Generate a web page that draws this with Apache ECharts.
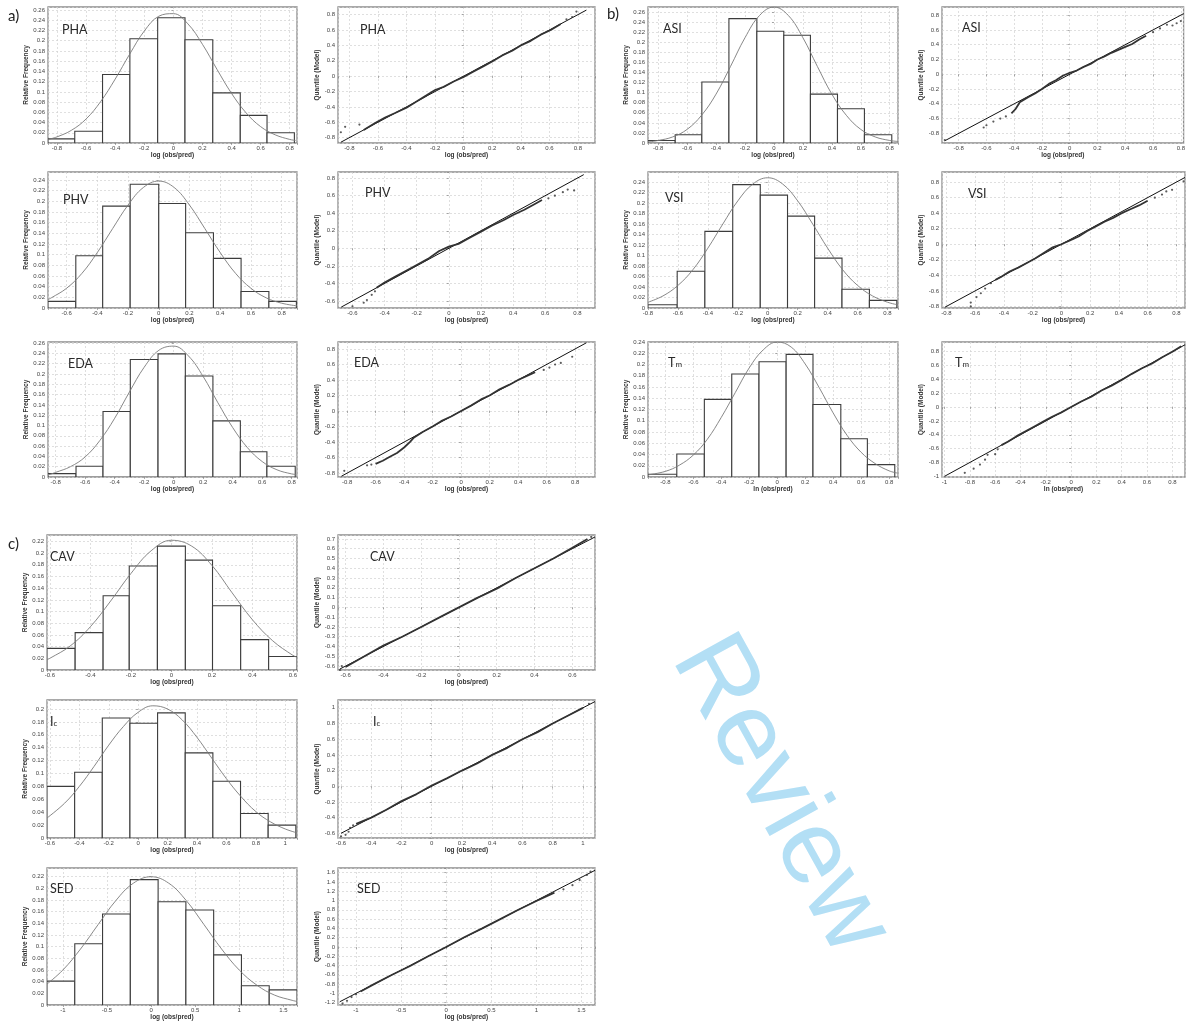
<!DOCTYPE html>
<html>
<head>
<meta charset="utf-8">
<script src="https://cdn.jsdelivr.net/npm/echarts@6/dist/echarts.min.js"></script>
<style>
html,body{margin:0;padding:0;background:#fff}
#c{width:1188px;height:1022px}
</style>
</head>
<body>
<div id="c"></div>
<script>
// ---------- Histograms: bin edges, relative frequencies, fitted normal curve ----------
const phaEdges = [-0.862,-0.678,-0.487,-0.299,-0.108,0.080,0.271,0.460,0.644,0.832];
const phaFreq  = [0.008,0.023,0.134,0.204,0.245,0.202,0.098,0.054,0.020];
const phaCurve = [[-0.86,0.007],[-0.8,0.012],[-0.7,0.025],[-0.6,0.047],[-0.5,0.081],[-0.4,0.125],[-0.3,0.174],[-0.2,0.219],[-0.1,0.248],[0,0.253],[0.1,0.233],[0.2,0.193],[0.3,0.144],[0.4,0.097],[0.5,0.059],[0.6,0.032],[0.7,0.016],[0.8,0.007],[0.84,0.005]];

const phvEdges = [-0.721,-0.540,-0.365,-0.186,0,0.175,0.356,0.536,0.717,0.896];
const phvFreq  = [0.0125,0.098,0.191,0.232,0.196,0.141,0.093,0.031,0.0125];
const phvCurve = [[-0.72,0.016],[-0.7,0.019],[-0.6,0.037],[-0.5,0.065],[-0.4,0.104],[-0.3,0.149],[-0.2,0.193],[-0.1,0.226],[0,0.238],[0.1,0.226],[0.2,0.193],[0.3,0.149],[0.4,0.104],[0.5,0.065],[0.6,0.037],[0.7,0.019],[0.8,0.009],[0.9,0.004]];

const edaEdges = [-0.852,-0.662,-0.479,-0.294,-0.106,0.079,0.266,0.452,0.632,0.824];
const edaFreq  = [0.0065,0.021,0.127,0.228,0.239,0.196,0.109,0.049,0.021];
const edaCurve = [[-0.85,0.004],[-0.8,0.009],[-0.7,0.020],[-0.6,0.039],[-0.5,0.071],[-0.4,0.114],[-0.3,0.165],[-0.2,0.213],[-0.1,0.246],[0,0.254],[0.1,0.235],[0.2,0.195],[0.3,0.144],[0.4,0.096],[0.5,0.057],[0.6,0.030],[0.7,0.014],[0.8,0.006],[0.83,0.005]];

const asiEdges = [-0.870,-0.682,-0.498,-0.311,-0.118,0.068,0.252,0.439,0.625,0.814];
const asiFreq  = [0.005,0.0165,0.121,0.247,0.222,0.214,0.097,0.068,0.0165];
const asiCurve = [[-0.87,0.002],[-0.8,0.005],[-0.7,0.012],[-0.6,0.027],[-0.5,0.055],[-0.4,0.097],[-0.3,0.152],[-0.2,0.209],[-0.1,0.253],[0,0.270],[0.1,0.253],[0.2,0.209],[0.3,0.152],[0.4,0.097],[0.5,0.055],[0.6,0.027],[0.7,0.012],[0.8,0.005],[0.857,0.003]];

const vsiEdges = [-0.800,-0.605,-0.420,-0.234,-0.050,0.132,0.313,0.496,0.679,0.862];
const vsiFreq  = [0.0063,0.070,0.146,0.235,0.215,0.175,0.095,0.0356,0.0146];
const vsiCurve = [[-0.8,0.011],[-0.7,0.023],[-0.6,0.043],[-0.5,0.073],[-0.4,0.114],[-0.3,0.160],[-0.2,0.204],[-0.1,0.236],[0,0.248],[0.1,0.236],[0.2,0.204],[0.3,0.160],[0.4,0.114],[0.5,0.073],[0.6,0.043],[0.7,0.023],[0.8,0.011],[0.87,0.006]];

const tmEdges = [-0.924,-0.718,-0.521,-0.325,-0.130,0.064,0.256,0.455,0.645,0.841];
const tmFreq  = [0.005,0.041,0.138,0.183,0.205,0.218,0.129,0.068,0.022];
const tmCurve = [[-0.92,0.004],[-0.8,0.010],[-0.7,0.021],[-0.6,0.039],[-0.5,0.067],[-0.4,0.106],[-0.3,0.150],[-0.2,0.194],[-0.1,0.226],[0,0.240],[0.1,0.231],[0.2,0.201],[0.3,0.159],[0.4,0.114],[0.5,0.074],[0.6,0.044],[0.7,0.024],[0.8,0.011],[0.86,0.007]];

const cavEdges = [-0.614,-0.475,-0.337,-0.208,-0.069,0.069,0.203,0.342,0.480,0.620];
const cavFreq  = [0.037,0.064,0.127,0.178,0.212,0.188,0.110,0.052,0.023];
const cavCurve = [[-0.614,0.018],[-0.6,0.020],[-0.5,0.041],[-0.4,0.074],[-0.3,0.118],[-0.2,0.165],[-0.1,0.204],[0,0.222],[0.1,0.212],[0.2,0.179],[0.3,0.132],[0.4,0.086],[0.5,0.050],[0.6,0.025],[0.62,0.022]];

const icEdges = [-0.620,-0.432,-0.244,-0.056,0.132,0.320,0.508,0.696,0.884,1.072];
const icFreq  = [0.080,0.102,0.186,0.178,0.194,0.132,0.088,0.038,0.020];
const icCurve = [[-0.62,0.031],[-0.5,0.054],[-0.4,0.080],[-0.3,0.111],[-0.2,0.144],[-0.1,0.173],[0,0.195],[0.1,0.205],[0.2,0.200],[0.3,0.183],[0.4,0.156],[0.5,0.124],[0.6,0.092],[0.7,0.064],[0.8,0.041],[0.9,0.025],[1.0,0.014],[1.08,0.008]];

const sedEdges = [-1.180,-0.865,-0.550,-0.235,0.080,0.395,0.710,1.025,1.340,1.655];
const sedFreq  = [0.041,0.105,0.156,0.215,0.177,0.163,0.086,0.033,0.026];
const sedCurve = [[-1.18,0.036],[-1.0,0.060],[-0.8,0.096],[-0.6,0.138],[-0.4,0.179],[-0.2,0.209],[0,0.220],[0.2,0.209],[0.4,0.179],[0.6,0.138],[0.8,0.096],[1.0,0.060],[1.2,0.034],[1.4,0.017],[1.6,0.008],[1.655,0.006]];

// ---------- Q-Q plots: sample quantile chain, loose tail points, 1:1 reference span ----------
const phaQQ = [[-0.7,-0.7],[-0.62,-0.61],[-0.55,-0.54],[-0.48,-0.48],[-0.4,-0.41],[-0.33,-0.33],[-0.26,-0.25],[-0.2,-0.18],[-0.14,-0.14],[-0.07,-0.07],[0,-0.01],[0.07,0.06],[0.14,0.13],[0.2,0.19],[0.27,0.27],[0.34,0.33],[0.4,0.4],[0.47,0.46],[0.54,0.54],[0.61,0.6],[0.68,0.68]];
const phaTail = [[-0.86,-0.73],[-0.83,-0.66],[-0.73,-0.63],[0.72,0.74],[0.76,0.77],[0.79,0.84]];
const phaRef = [-0.86, 0.86];

const phvQQ = [[-0.45,-0.45],[-0.4,-0.39],[-0.33,-0.32],[-0.26,-0.25],[-0.2,-0.19],[-0.13,-0.12],[-0.06,-0.03],[0,0.02],[0.06,0.05],[0.13,0.12],[0.2,0.19],[0.27,0.26],[0.34,0.32],[0.4,0.38],[0.47,0.44],[0.53,0.5],[0.58,0.55]];
const phvTail = [[-0.6,-0.66],[-0.53,-0.62],[-0.51,-0.59],[-0.48,-0.53],[-0.46,-0.49],[0.62,0.57],[0.66,0.6],[0.71,0.64],[0.74,0.67],[0.78,0.66]];
const phvRef = [-0.67, 0.84];

const edaQQ = [[-0.6,-0.68],[-0.55,-0.64],[-0.5,-0.59],[-0.45,-0.54],[-0.4,-0.47],[-0.36,-0.4],[-0.33,-0.34],[-0.27,-0.27],[-0.2,-0.2],[-0.14,-0.13],[-0.07,-0.07],[0,0],[0.07,0.07],[0.14,0.15],[0.2,0.2],[0.27,0.28],[0.34,0.34],[0.4,0.4],[0.47,0.46],[0.52,0.5]];
const edaTail = [[-0.82,-0.77],[-0.66,-0.7],[-0.63,-0.69],[0.58,0.53],[0.62,0.56],[0.66,0.6],[0.7,0.62],[0.78,0.7]];
const edaRef = [-0.84, 0.88];

const asiQQ = [[-0.42,-0.53],[-0.39,-0.47],[-0.36,-0.38],[-0.3,-0.31],[-0.25,-0.26],[-0.2,-0.2],[-0.15,-0.13],[-0.1,-0.08],[-0.05,-0.02],[0,0.02],[0.05,0.05],[0.1,0.1],[0.15,0.14],[0.2,0.2],[0.25,0.24],[0.3,0.29],[0.35,0.33],[0.4,0.37],[0.45,0.41],[0.5,0.47],[0.55,0.52]];
const asiTail = [[-0.9,-0.89],[-0.62,-0.72],[-0.6,-0.69],[-0.55,-0.64],[-0.5,-0.6],[-0.46,-0.57],[0.6,0.57],[0.65,0.62],[0.7,0.67],[0.74,0.66],[0.77,0.69],[0.8,0.72]];
const asiRef = [-0.9, 0.82];

const vsiQQ = [[-0.46,-0.46],[-0.42,-0.42],[-0.36,-0.35],[-0.3,-0.3],[-0.24,-0.24],[-0.18,-0.18],[-0.12,-0.11],[-0.06,-0.04],[0,0],[0.06,0.05],[0.12,0.1],[0.18,0.17],[0.24,0.23],[0.3,0.29],[0.36,0.34],[0.42,0.4],[0.48,0.45],[0.54,0.5],[0.6,0.56]];
const vsiTail = [[-0.63,-0.8],[-0.63,-0.75],[-0.59,-0.68],[-0.56,-0.63],[-0.53,-0.57],[-0.49,-0.5],[0.65,0.6],[0.7,0.64],[0.73,0.68],[0.77,0.7],[0.85,0.81]];
const vsiRef = [-0.81, 0.86];

const tmQQ = [[-0.55,-0.55],[-0.5,-0.5],[-0.43,-0.42],[-0.36,-0.35],[-0.29,-0.28],[-0.22,-0.21],[-0.15,-0.14],[-0.08,-0.08],[0,0],[0.08,0.08],[0.16,0.15],[0.24,0.24],[0.32,0.31],[0.4,0.39],[0.48,0.48],[0.56,0.56],[0.64,0.63],[0.72,0.72],[0.8,0.8],[0.87,0.88]];
const tmTail = [[-0.84,-0.95],[-0.77,-0.89],[-0.72,-0.83],[-0.68,-0.76],[-0.66,-0.69],[-0.6,-0.68],[-0.58,-0.61]];
const tmRef = [-1.0, 0.9];

const cavQQ = [[-0.6,-0.61],[-0.5,-0.5],[-0.4,-0.39],[-0.3,-0.3],[-0.2,-0.2],[-0.1,-0.1],[0,0],[0.1,0.1],[0.2,0.19],[0.3,0.3],[0.4,0.4],[0.5,0.5],[0.6,0.61],[0.68,0.7]];
const cavTail = [[-0.63,-0.64],[-0.62,-0.6],[0.7,0.72]];
const cavRef = [-0.63, 0.72];

const icQQ = [[-0.5,-0.48],[-0.4,-0.4],[-0.3,-0.3],[-0.2,-0.19],[-0.1,-0.1],[0,0.01],[0.1,0.1],[0.2,0.2],[0.3,0.29],[0.4,0.4],[0.5,0.49],[0.6,0.6],[0.7,0.69],[0.8,0.8],[0.9,0.9],[1.0,1.0]];
const icTail = [[-0.6,-0.64],[-0.57,-0.62],[-0.55,-0.58],[-0.54,-0.53],[-0.52,-0.5],[1.04,1.05]];
const icRef = [-0.6, 1.08];

const sedQQ = [[-0.95,-0.96],[-0.8,-0.8],[-0.6,-0.6],[-0.4,-0.41],[-0.2,-0.2],[0,0],[0.2,0.21],[0.4,0.4],[0.6,0.6],[0.8,0.8],[1.0,0.99],[1.2,1.17]];
const sedTail = [[-1.15,-1.22],[-1.1,-1.16],[-1.05,-1.08],[-1.0,-1.02],[1.3,1.24],[1.4,1.33],[1.48,1.44],[1.56,1.55],[1.6,1.62]];
const sedRef = [-1.18, 1.65];

// ---------- Axis scales: [min, max, tick step] ----------
const phaHX = [-0.862, 0.85, 0.2],  phaHY = [0, 0.266, 0.02];
const phvHX = [-0.721, 0.9, 0.2],   phvHY = [0, 0.255, 0.02];
const edaHX = [-0.852, 0.836, 0.2], edaHY = [0, 0.262, 0.02];
const asiHX = [-0.87, 0.857, 0.2],  asiHY = [0, 0.27, 0.02];
const vsiHX = [-0.8, 0.87, 0.2],    vsiHY = [0, 0.259, 0.02];
const tmHX  = [-0.924, 0.864, 0.2], tmHY  = [0, 0.24, 0.02];
const cavHX = [-0.614, 0.62, 0.2],  cavHY = [0, 0.231, 0.02];
const icHX  = [-0.62, 1.08, 0.2],   icHY  = [0, 0.214, 0.02];
const sedHX = [-1.18, 1.655, 0.5],  sedHY = [0, 0.235, 0.02];

const phaQX = [-0.88, 0.92, 0.2],  phaQY = [-0.87, 0.9, 0.2];
const phvQX = [-0.69, 0.91, 0.2],  phvQY = [-0.68, 0.87, 0.2];
const edaQX = [-0.864, 0.94, 0.2], edaQY = [-0.85, 0.89, 0.2];
const asiQX = [-0.92, 0.82, 0.2],  asiQY = [-0.93, 0.91, 0.2];
const vsiQX = [-0.83, 0.86, 0.2],  vsiQY = [-0.82, 0.93, 0.2];
const tmQX  = [-1.02, 0.9, 0.2],   tmQY  = [-1.01, 0.94, 0.2];
const cavQX = [-0.64, 0.72, 0.2],  cavQY = [-0.64, 0.74, 0.1];
const icQX  = [-0.62, 1.08, 0.2],  icQY  = [-0.66, 1.1, 0.2];
const sedQX = [-1.2, 1.65, 0.5],   sedQY = [-1.25, 1.7, 0.2];

// ---------- Layout ----------
const LABEL_FONT = '"Liberation Sans", Arial, sans-serif';
const TITLE_FONT = 'Lato, "Open Sans", sans-serif';
const COL = { aH:[48,249], aQ:[338,257], bH:[648,250], bQ:[942,243], cH:[47,250], cQ:[338,257] };
const ROW = { r1:[7,136], r2:[172,136], r3:[342,135], c1:[535,135], c2:[700,138], c3:[868,139] };

const LOG = 'log (obs/pred)', LN = 'ln (obs/pred)';
const panels = [
  {k:'h', c:'aH', r:'r1', t:'PHA', tp:[62,23],  x:phaHX, y:phaHY, e:phaEdges, f:phaFreq, cv:phaCurve, xn:LOG},
  {k:'q', c:'aQ', r:'r1', t:'PHA', tp:[360,23], x:phaQX, y:phaQY, qq:phaQQ, tl:phaTail, ref:phaRef, xn:LOG},
  {k:'h', c:'aH', r:'r2', t:'PHV', tp:[63,193], x:phvHX, y:phvHY, e:phvEdges, f:phvFreq, cv:phvCurve, xn:LOG},
  {k:'q', c:'aQ', r:'r2', t:'PHV', tp:[365,186], x:phvQX, y:phvQY, qq:phvQQ, tl:phvTail, ref:phvRef, xn:LOG},
  {k:'h', c:'aH', r:'r3', t:'EDA', tp:[68,357], x:edaHX, y:edaHY, e:edaEdges, f:edaFreq, cv:edaCurve, xn:LOG},
  {k:'q', c:'aQ', r:'r3', t:'EDA', tp:[354,356], x:edaQX, y:edaQY, qq:edaQQ, tl:edaTail, ref:edaRef, xn:LOG},
  {k:'h', c:'bH', r:'r1', t:'ASI', tp:[663,22], x:asiHX, y:asiHY, e:asiEdges, f:asiFreq, cv:asiCurve, xn:LOG},
  {k:'q', c:'bQ', r:'r1', t:'ASI', tp:[962,21], x:asiQX, y:asiQY, qq:asiQQ, tl:asiTail, ref:asiRef, xn:LOG},
  {k:'h', c:'bH', r:'r2', t:'VSI', tp:[665,191], x:vsiHX, y:vsiHY, e:vsiEdges, f:vsiFreq, cv:vsiCurve, xn:LOG},
  {k:'q', c:'bQ', r:'r2', t:'VSI', tp:[968,187], x:vsiQX, y:vsiQY, qq:vsiQQ, tl:vsiTail, ref:vsiRef, xn:LOG},
  {k:'h', c:'bH', r:'r3', t:'T{s|m}', tp:[668,356], x:tmHX, y:tmHY, e:tmEdges, f:tmFreq, cv:tmCurve, xn:LN},
  {k:'q', c:'bQ', r:'r3', t:'T{s|m}', tp:[955,356], x:tmQX, y:tmQY, qq:tmQQ, tl:tmTail, ref:tmRef, xn:LN},
  {k:'h', c:'cH', r:'c1', t:'CAV', tp:[50,550], x:cavHX, y:cavHY, e:cavEdges, f:cavFreq, cv:cavCurve, xn:LOG},
  {k:'q', c:'cQ', r:'c1', t:'CAV', tp:[370,550], x:cavQX, y:cavQY, qq:cavQQ, tl:cavTail, ref:cavRef, xn:LOG},
  {k:'h', c:'cH', r:'c2', t:'I{s|c}', tp:[50,715], x:icHX, y:icHY, e:icEdges, f:icFreq, cv:icCurve, xn:LOG},
  {k:'q', c:'cQ', r:'c2', t:'I{s|c}', tp:[373,715], x:icQX, y:icQY, qq:icQQ, tl:icTail, ref:icRef, xn:LOG},
  {k:'h', c:'cH', r:'c3', t:'SED', tp:[50,882], x:sedHX, y:sedHY, e:sedEdges, f:sedFreq, cv:sedCurve, xn:LOG},
  {k:'q', c:'cQ', r:'c3', t:'SED', tp:[357,882], x:sedQX, y:sedQY, qq:sedQQ, tl:sedTail, ref:sedRef, xn:LOG}
];

function onStep(v, step) { const r = v / step; return Math.abs(r - Math.round(r)) < 1e-6; }
function fmtTick(v) { return String(parseFloat(v.toFixed(4))); }

function makeAxis(gi, s, name, gap, isY) {
  const [min, max, step] = s;
  return {
    type: 'value', gridIndex: gi, min, max,
    minInterval: step, maxInterval: step, splitNumber: Math.round((max - min) / step),
    axisLine: { show: false },
    axisTick: { show: true, length: 2, lineStyle: { color: '#777', width: 0.6 } },
    axisLabel: { fontSize: 6, color: '#444', margin: isY ? 3 : 2, fontFamily: LABEL_FONT,
      formatter: v => onStep(v, step) ? fmtTick(v) : '' },
    splitLine: { show: true, lineStyle: { color: '#d2d2d2', width: 0.7, type: [2, 2] } },
    name, nameLocation: 'middle', nameGap: gap,
    nameTextStyle: { fontSize: 6.5, fontWeight: 'bold', color: '#333', fontFamily: LABEL_FONT }
  };
}

const grid = [], xAxis = [], yAxis = [], series = [], title = [];

// section letters
[['a)', 8, 9], ['b)', 607, 7], ['c)', 8, 537]].forEach(([t, l, tp]) => {
  title.push({ text: t, left: l, top: tp, padding: 0,
    textStyle: { fontSize: 15, fontWeight: 'normal', color: '#222', fontFamily: TITLE_FONT } });
});

panels.forEach((p, gi) => {
  const [left, width] = COL[p.c];
  const [top, height] = ROW[p.r];
  grid.push({ left, top, width, height, show: true, backgroundColor: '#fff',
    borderColor: '#8d8d8d', borderWidth: 1.3, containLabel: false });
  const isHist = p.k === 'h';
  xAxis.push(makeAxis(gi, p.x, p.xn, 9, false));
  yAxis.push(makeAxis(gi, p.y, isHist ? 'Relative Frequency' : 'Quantile (Model)', isHist ? 14 : 12, true));
  title.push({ text: p.t, left: p.tp[0], top: p.tp[1], padding: 0,
    textStyle: { fontSize: 12.5, fontWeight: 'normal', color: '#2a2a2a', fontFamily: TITLE_FONT,
      rich: { s: { fontSize: 8, color: '#2a2a2a', fontFamily: TITLE_FONT, padding: [3, 0, 0, 0] } } } });

  if (isHist) {
    const bins = p.f.map((h, i) => [p.e[i], p.e[i + 1], h]);
    series.push({
      type: 'custom', xAxisIndex: gi, yAxisIndex: gi, data: bins, clip: true,
      encode: { x: [0, 1], y: 2 },
      renderItem: (params, api) => {
        const a = api.coord([api.value(0), 0]);
        const b = api.coord([api.value(1), api.value(2)]);
        return { type: 'rect',
          shape: { x: a[0], y: b[1], width: b[0] - a[0], height: a[1] - b[1] },
          style: { fill: '#fff', stroke: '#3c3c3c', lineWidth: 1.1 } };
      }
    });
    series.push({ type: 'line', xAxisIndex: gi, yAxisIndex: gi, data: p.cv, smooth: 0.4,
      showSymbol: false, lineStyle: { color: '#7a7a7a', width: 0.9 }, z: 3 });
  } else {
    series.push({ type: 'line', xAxisIndex: gi, yAxisIndex: gi,
      data: [[p.ref[0], p.ref[0]], [p.ref[1], p.ref[1]]],
      showSymbol: false, lineStyle: { color: '#111', width: 1 }, z: 2 });
    series.push({ type: 'line', xAxisIndex: gi, yAxisIndex: gi, data: p.qq,
      showSymbol: false, lineStyle: { color: '#333', width: 1.8 }, z: 3 });
    series.push({ type: 'scatter', xAxisIndex: gi, yAxisIndex: gi, data: p.tl,
      symbolSize: 2.2, itemStyle: { color: '#333' }, z: 4 });
  }
});

const chart = echarts.init(document.getElementById('c'), null, { renderer: 'canvas' });
chart.setOption({
  backgroundColor: '#fff',
  animation: false,
  title, grid, xAxis, yAxis, series,
  graphic: [
    { // review stamp in the empty lower-right corner
      type: 'text', x: 780, y: 795, rotation: -1.065, z: -10, silent: true,
      style: { text: 'Review', fill: '#b3dff5', fontSize: 105,
        fontFamily: LABEL_FONT, align: 'center', verticalAlign: 'middle' }
    }
  ]
});
</script>
</body>
</html>
